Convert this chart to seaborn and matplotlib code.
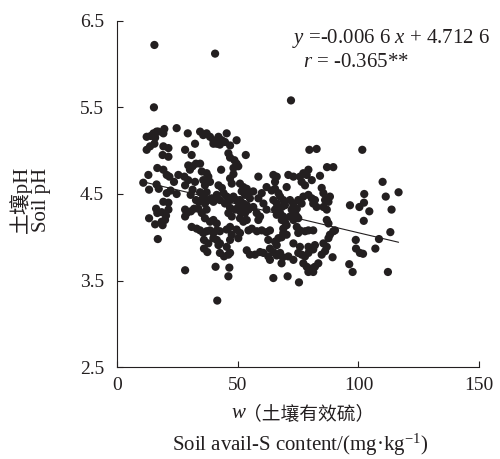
import matplotlib
matplotlib.use('Agg')
import matplotlib.pyplot as plt
import numpy as np
import pandas as pd
import seaborn as sns

# ---- dados: enxofre disponível (mg/kg) e pH ----
sulfur = [
    15.6, 40.7, 72.1, 15.4, 101.6, 79.7, 82.7, 41.6, 28.3, 112.2, 97.6, 96.2, 75.4, 70.7, 64.8,
    46.2, 46.6, 40.9, 116.6, 110.0, 111.3, 113.7, 113.2, 108.5, 107.0, 96.5, 102.4, 102.3, 104.5,
    100.4, 102.2, 98.9, 99.0, 100.6, 101.9, 89.6, 87.0, 84.1, 89.6, 90.3, 89.3,
    11.0, 13.1, 13.4, 13.4, 15.9, 17.0, 16.5, 17.4, 16.3, 16.8, 18.6, 18.6, 19.0, 20.0, 20.4,
    16.8, 19.3, 19.3, 21.4, 20.7, 22.3, 21.4, 20.7, 21.8, 12.4, 14.1, 15.9, 15.2, 16.5,
    12.4, 13.8, 15.6, 17.2, 19.7, 19.3, 19.3, 21.4, 19.0, 21.4, 24.8, 29.4, 28.3, 31.0,
    25.5, 28.0, 23.7, 24.8, 28.3, 29.6, 28.3, 29.0, 28.3, 30.7, 32.0, 31.0, 33.1,
    29.6, 31.4, 32.8, 30.3, 34.5, 32.4, 31.4, 30.6, 32.8, 33.9,
    34.5, 35.8, 37.2, 38.6, 40.0, 41.4, 42.1, 43.5, 32.4, 40.0, 42.7, 45.5, 44.8,
    46.9, 46.2, 46.9, 49.6, 48.7, 49.6, 48.3, 50.3, 43.2,
    35.2, 37.2, 37.9, 35.8, 36.5, 38.6, 48.3, 46.9, 47.6,
    34.5, 35.8, 37.2, 35.2, 36.5, 37.9, 39.3, 40.0, 43.5, 44.2, 45.5, 46.9, 44.8,
    48.3, 49.6, 50.3, 48.9, 51.0, 46.9, 46.2, 47.6,
    35.2, 36.5, 38.6, 40.0, 41.4, 34.5, 35.8, 37.2, 38.6, 40.0, 41.4, 42.7,
    36.1, 37.9, 40.0, 41.4, 42.7, 36.1, 37.5, 42.1, 42.7, 44.4, 46.2, 46.9,
    45.5, 46.9, 47.6, 45.5, 46.9, 49.6, 51.0, 50.3,
    51.0, 52.4, 53.8, 51.7, 53.1, 54.5, 55.1, 51.0, 52.4, 51.7, 53.8, 53.1, 54.5, 56.5,
    51.0, 52.4, 53.8, 53.4, 54.5, 55.9, 58.0, 60.0, 62.0, 63.4,
    53.8, 55.1, 57.2, 59.3, 60.7, 58.6, 56.5, 58.6, 60.0, 60.7, 57.9, 59.3, 58.6, 62.0,
    64.8, 65.5, 66.2, 64.1, 65.5, 66.9, 64.8, 66.2, 67.6, 68.9, 68.3, 69.6,
    65.5, 66.2, 67.6, 68.9, 68.3, 69.6, 70.3, 68.9,
    62.7, 63.4, 64.8, 66.2, 67.6, 68.7, 68.2, 66.2, 65.5, 66.9, 68.9, 70.3, 68.2,
    71.0, 73.1, 70.3,
    71.7, 73.1, 72.4, 73.8, 71.7, 74.5, 73.1, 75.1, 73.1, 74.5, 75.1, 76.5,
    75.8, 77.2, 76.5, 78.6, 79.3, 77.9, 80.7,
    77.2, 79.3, 80.7, 81.3, 82.7, 82.0, 84.8, 85.5, 86.2, 87.6, 88.2, 85.5, 86.9,
    86.9, 87.6, 74.5, 75.8, 75.1, 77.9, 79.3, 81.3, 88.2, 87.6,
    73.1, 75.8, 75.1, 76.5, 77.9, 79.3, 80.7,
    77.2, 78.6, 80.7, 82.0, 83.4, 79.3, 81.3, 84.8, 86.2, 86.9, 85.5, 82.0, 81.3, 79.3,
    71.0, 73.1, 63.4, 62.7, 62.0, 33.8, 37.2, 41.4, 42.7, 42.1,
]
ph = [
    6.22, 6.12, 5.58, 5.50, 5.01, 5.01, 5.02, 3.27, 3.62, 3.60, 3.60, 3.69, 3.48, 3.55, 3.53,
    3.55, 3.65, 3.66, 4.52, 4.64, 4.47, 4.32, 4.06, 3.98, 3.87, 4.37, 4.50, 4.40, 4.30,
    4.35, 4.19, 3.97, 3.87, 3.82, 3.81, 4.81, 4.81, 4.71, 4.07, 4.08, 3.77,
    4.63, 4.72, 4.55, 4.22, 4.15, 3.98, 4.61, 4.56, 4.33, 4.28, 4.29, 4.18, 4.14, 4.20, 4.25,
    4.80, 4.78, 4.41, 4.40, 4.51, 4.54, 4.32, 4.72, 4.70, 5.16, 5.17, 5.15, 5.20, 5.22,
    5.01, 5.05, 5.08, 5.22, 5.25, 5.20, 5.05, 5.03, 4.95, 4.93, 5.26, 5.20, 5.01, 4.95,
    4.72, 4.70, 4.64, 4.50, 4.60, 4.66, 4.32, 4.28, 4.24, 4.30, 4.33, 4.12, 4.10,
    4.83, 4.82, 4.85, 4.78, 4.85, 4.64, 4.55, 4.49, 4.43, 4.41,
    5.22, 5.18, 5.20, 5.16, 5.12, 5.08, 5.16, 5.12, 5.08, 5.08, 5.07, 5.20, 5.10,
    5.06, 4.97, 4.92, 5.12, 4.89, 4.85, 4.80, 4.82, 4.78,
    4.76, 4.74, 4.70, 4.66, 4.60, 4.64, 4.73, 4.68, 4.62,
    4.52, 4.47, 4.52, 4.43, 4.39, 4.43, 4.45, 4.41, 4.57, 4.51, 4.47, 4.43, 4.39,
    4.47, 4.43, 4.35, 4.32, 4.30, 4.34, 4.28, 4.24,
    4.28, 4.22, 4.18, 4.20, 4.16, 4.08, 4.05, 4.07, 4.08, 4.05, 4.08, 4.07,
    3.97, 3.93, 3.99, 3.97, 3.93, 3.87, 3.83, 3.91, 3.82, 3.78, 3.80, 3.82,
    3.89, 3.97, 4.03, 4.09, 4.12, 4.09, 4.05, 3.99,
    4.62, 4.58, 4.56, 4.53, 4.49, 4.51, 4.45, 4.43, 4.39, 4.33, 4.37, 4.28, 4.32, 4.35,
    4.22, 4.18, 4.20, 4.95, 4.08, 4.10, 4.07, 4.08, 4.06, 4.08,
    3.85, 3.80, 3.80, 3.83, 3.82, 4.70, 4.53, 4.45, 4.51, 4.39, 4.28, 4.24, 4.20, 4.32,
    4.72, 4.64, 4.70, 4.54, 4.56, 4.51, 4.43, 4.39, 4.47, 4.43, 4.35, 4.37,
    4.32, 4.26, 4.28, 4.24, 4.20, 4.18, 4.14, 4.10,
    3.97, 3.87, 3.83, 3.79, 3.82, 3.77, 3.70, 3.91, 3.95, 3.99, 4.05, 4.03, 4.00,
    4.72, 4.70, 4.58,
    4.43, 4.39, 4.32, 4.28, 4.24, 4.24, 4.20, 4.22, 4.37, 4.33, 4.43, 4.39,
    4.70, 4.74, 4.64, 4.72, 4.78, 4.60, 4.66,
    4.47, 4.49, 4.45, 4.39, 4.35, 4.43, 4.57, 4.51, 4.43, 4.41, 4.47, 4.35, 4.32,
    4.20, 4.16, 4.12, 4.08, 4.05, 4.07, 4.08, 4.08, 4.03, 3.99,
    3.93, 3.89, 3.82, 3.80, 3.78, 3.82, 3.87,
    3.70, 3.66, 3.64, 3.66, 3.70, 3.60, 3.60, 3.80, 3.84, 3.89, 3.93, 3.91, 3.86, 3.89,
    3.78, 3.74, 3.74, 3.78, 4.58, 4.33, 4.32, 4.49, 4.43, 4.60,
]

# ---- coeficientes da regressão mostrados no gráfico ----
slope = -0.0066
intercept = 4.7126
eq_text = '$y$ =-0.006 6 $x$ + 4.712 6'
r_text = '$r$ = -0.365**'

x_ticks = [0, 50, 100, 150]
y_ticks = [2.5, 3.5, 4.5, 5.5, 6.5]

df = pd.DataFrame({'S': sulfur, 'pH': ph})

sns.set_style('ticks')
plt.rcParams['font.family'] = ['Liberation Serif', 'Noto Sans CJK SC']
plt.rcParams['mathtext.fontset'] = 'custom'
plt.rcParams['mathtext.rm'] = 'Liberation Serif'
plt.rcParams['mathtext.it'] = 'Liberation Serif:italic'

ink = '#231f20'
fs = 15

fig = plt.figure(figsize=(5, 4.59), dpi=100)
ax = fig.add_axes([0.2334, 0.1998, 0.7252, 0.7551])

sns.scatterplot(data=df, x='S', y='pH', color=ink, s=35, edgecolor='none', ax=ax)

# ---- linha de tendência ----
xl = np.linspace(df['S'].min(), df['S'].max(), 10)
ax.plot(xl, slope * xl + intercept, color=ink, lw=0.8)

ax.set_xlim(0, 150)
ax.set_ylim(2.5, 6.5)
ax.set_xticks(x_ticks)
ax.set_yticks(y_ticks)
ax.set_xticklabels([str(t) for t in x_ticks])
ax.set_yticklabels([str(t) for t in y_ticks])
ax.tick_params(direction='in', length=4, width=0.8, labelsize=14, colors=ink)
ax.tick_params(axis='y', pad=9)
ax.tick_params(axis='x', pad=7)
sns.despine(ax=ax)
for sp in ['left', 'bottom']:
    ax.spines[sp].set_linewidth(0.8)
    ax.spines[sp].set_color(ink)

ax.set_xlabel('')
ax.set_ylabel('')
fig.text(0.06, 0.565, '土壤pH\nSoil pH', rotation=90, ha='center', va='center',
         fontsize=fs, color=ink, linespacing=1.0)
fig.text(0.49, 0.1, 'w', style='italic', ha='right', va='center', fontsize=fs, color=ink)
fig.text(0.487, 0.1, '（土壤有效硫）', family=['Noto Sans CJK SC'], ha='left', va='center',
         fontsize=fs - 1.5, color=ink)
fig.text(0.6, 0.03, 'Soil avail-S content/(mg·kg$^{-1}$)', ha='center', va='center',
         fontsize=fs, color=ink)

ax.text(0.757, 0.95, eq_text, transform=ax.transAxes, ha='center', va='center',
        fontsize=fs, color=ink)
ax.text(0.66, 0.878, r_text, transform=ax.transAxes, ha='center', va='center',
        fontsize=fs, color=ink)

fig.savefig('out.png', dpi=100)
